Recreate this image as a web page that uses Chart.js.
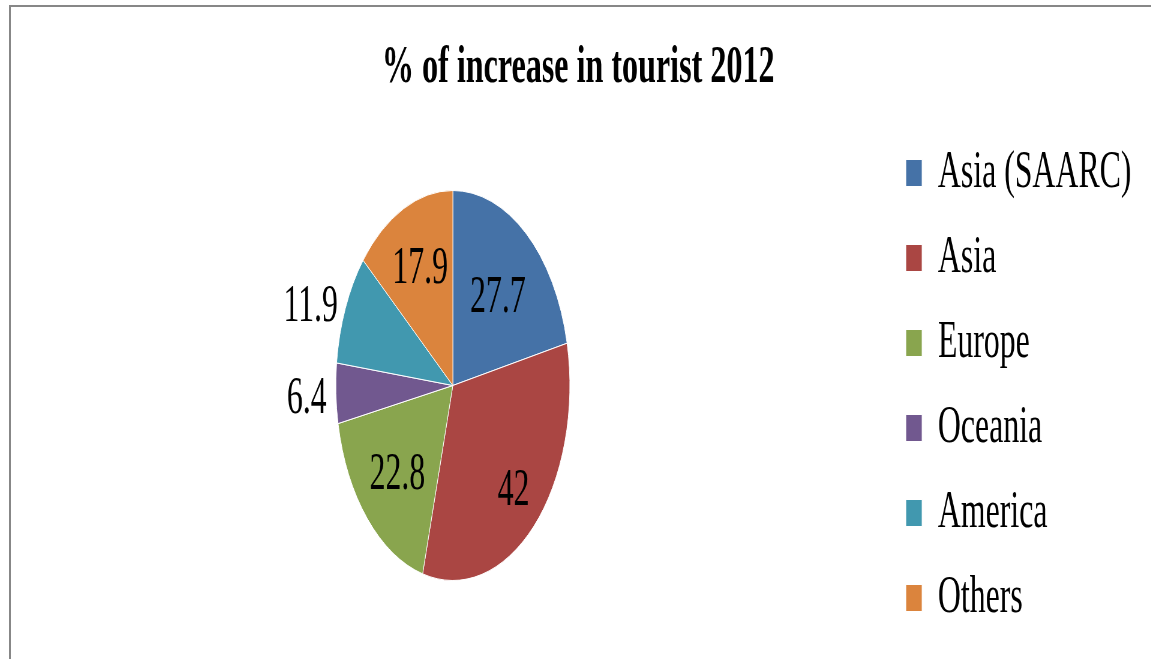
<!DOCTYPE html>
<html>
<head>
<meta charset="utf-8">
<script src="https://cdn.jsdelivr.net/npm/chart.js@4/dist/chart.umd.min.js"></script>
<style>
  html, body { margin: 0; padding: 0; background: #ffffff; overflow: hidden; width: 1151px; height: 659px; }
  #frame { position: absolute; left: 9px; top: 5px; width: 1200px; height: 700px; border: 2px solid #878787; box-sizing: border-box; }
  #wrap { position: absolute; left: 19.2px; top: 0; transform: scaleX(0.6); transform-origin: 0 0; }
  #c { display: block; }
</style>
</head>
<body>
<div id="frame"></div>
<div id="wrap"><canvas id="c" width="1864" height="659" style="width:1864px;height:659px"></canvas></div>
<script>
const titleText = '% of increase in tourist 2012';
const categories = ['Asia (SAARC)', 'Asia', 'Europe', 'Oceania', 'America', 'Others'];
const values = [27.7, 42, 22.8, 6.4, 11.9, 17.9];
const colors = ['#4572A7', '#AA4643', '#89A54E', '#71588F', '#4198AF', '#DB843D'];
// label placement relative to each slice (Excel "best fit" look):
// distance from centre as a fraction of the radius, and a small angular nudge in degrees
const labelRadiusFactors = [0.59, 0.75, 0.66, 1.25, 1.28, 0.66];
const labelAngleNudges = [2, 0, -1, -1, -5, 0];

const FONT = 'Liberation Serif, "Times New Roman", serif';

const valueLabels = {
  id: 'valueLabels',
  afterDatasetsDraw(chart) {
    const meta = chart.getDatasetMeta(0);
    const ctx = chart.ctx;
    ctx.save();
    ctx.font = '53px ' + FONT;
    ctx.fillStyle = '#000000';
    ctx.textAlign = 'center';
    ctx.textBaseline = 'middle';
    meta.data.forEach((arc, i) => {
      const p = arc.getProps(['x', 'y', 'startAngle', 'endAngle', 'outerRadius'], true);
      const mid = (p.startAngle + p.endAngle) / 2 + labelAngleNudges[i] * Math.PI / 180;
      const r = p.outerRadius * labelRadiusFactors[i];
      ctx.fillText(String(values[i]), p.x + Math.cos(mid) * r, p.y + Math.sin(mid) * r);
    });
    ctx.restore();
  }
};

new Chart(document.getElementById('c'), {
  type: 'pie',
  data: {
    labels: categories,
    datasets: [{
      data: values,
      backgroundColor: colors,
      borderColor: '#ffffff',
      borderWidth: 1
    }]
  },
  options: {
    responsive: false,
    animation: false,
    events: [],
    devicePixelRatio: 1,
    radius: 195,
    layout: { padding: { top: 0, left: 0, right: 0, bottom: 0 } },
    plugins: {
      title: {
        display: true,
        text: titleText,
        color: '#000000',
        font: { family: FONT, size: 53.5, weight: 'bold', lineHeight: 1.2 },
        padding: { top: 36, bottom: 11.8 }
      },
      legend: {
        position: 'right',
        align: 'center',
        fullSize: false,
        labels: {
          color: '#000000',
          font: { family: FONT, size: 53 },
          boxWidth: 27,
          boxHeight: 27,
          padding: 32
        }
      },
      tooltip: { enabled: false }
    }
  },
  plugins: [valueLabels]
});
</script>
</body>
</html>
